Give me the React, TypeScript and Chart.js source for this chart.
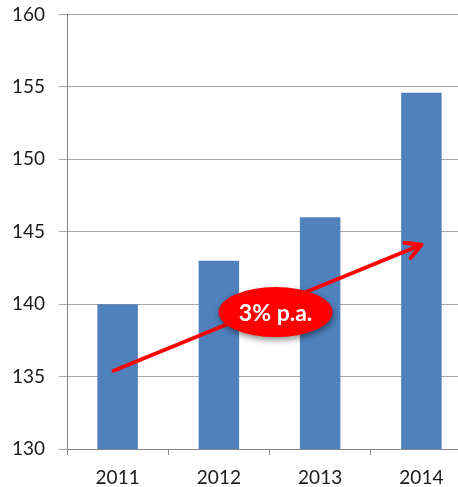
import React, { useEffect, useRef } from "react";
import { Chart, registerables } from "chart.js";

Chart.register(...registerables);

const categories = ["2011", "2012", "2013", "2014"];
const values = [140, 143, 146, 154.6];
const yMin = 130;
const yMax = 160;
const yStep = 5;

// Trend arrow in data coordinates: [category index, value]
const trendStart = [-0.04, 135.4];
const trendEnd = [3.0, 144.1];
// Growth badge in data coordinates
const badgeCenter = [1.56, 139.45];
const badgeText = "3% p.a.";

const FONT = "Lato, 'Open Sans', sans-serif";

const trendPlugin = {
  id: "trendArrow",
  afterDatasetsDraw(chart: any) {
    const { ctx, scales } = chart;
    const x = scales.x;
    const y = scales.y;
    const px = (i: number) => x.getPixelForValue(0) + i * (x.getPixelForValue(1) - x.getPixelForValue(0));
    const x1 = px(trendStart[0]);
    const y1 = y.getPixelForValue(trendStart[1]);
    const x2 = px(trendEnd[0]);
    const y2 = y.getPixelForValue(trendEnd[1]);
    const ang = Math.atan2(y2 - y1, x2 - x1);

    ctx.save();
    ctx.strokeStyle = "#FF0000";
    ctx.lineWidth = 4;
    ctx.lineCap = "round";
    ctx.lineJoin = "round";
    ctx.beginPath();
    ctx.moveTo(x1, y1);
    ctx.lineTo(x2, y2);
    ctx.stroke();
    const head = 17;
    const spread = 0.5;
    ctx.beginPath();
    ctx.moveTo(x2 - head * Math.cos(ang - spread), y2 - head * Math.sin(ang - spread));
    ctx.lineTo(x2, y2);
    ctx.lineTo(x2 - head * Math.cos(ang + spread), y2 - head * Math.sin(ang + spread));
    ctx.stroke();

    const cx = px(badgeCenter[0]);
    const cy = y.getPixelForValue(badgeCenter[1]);
    ctx.shadowColor = "rgba(0,0,0,0.45)";
    ctx.shadowBlur = 6;
    ctx.shadowOffsetX = 1;
    ctx.shadowOffsetY = 3;
    ctx.fillStyle = "#FF0000";
    ctx.beginPath();
    ctx.ellipse(cx, cy, 57, 25, 0, 0, Math.PI * 2);
    ctx.fill();
    ctx.shadowColor = "transparent";
    ctx.fillStyle = "#FFFFFF";
    ctx.font = `bold 23px ${FONT}`;
    ctx.textAlign = "center";
    ctx.textBaseline = "middle";
    ctx.fillText(badgeText, cx, cy + 1);
    ctx.restore();
  },
};

export default function App() {
  const ref = useRef<HTMLCanvasElement | null>(null);

  useEffect(() => {
    if (!ref.current) return;
    const chart = new Chart(ref.current, {
      type: "bar",
      data: {
        labels: categories,
        datasets: [
          {
            data: values,
            backgroundColor: "#4F81BD",
            borderWidth: 0,
            barPercentage: 0.4,
            categoryPercentage: 1,
          },
        ],
      },
      options: {
        responsive: false,
        animation: false,
        layout: { padding: { top: 4, right: 0, left: 0, bottom: 0 } },
        plugins: { legend: { display: false }, tooltip: { enabled: false } },
        scales: {
          x: {
            offset: true,
            border: { color: "#868686", width: 1 },
            grid: {
              offset: true,
              drawOnChartArea: false,
              drawTicks: true,
              tickLength: 6,
              color: "#868686",
            },
            ticks: {
              padding: 11,
              color: "#1A1A1A",
              font: { family: FONT, size: 19 },
            },
            afterFit(scale: any) {
              scale.height = 38;
            },
          },
          y: {
            min: yMin,
            max: yMax,
            border: { color: "#868686", width: 1 },
            grid: { color: "#A6A6A6", tickLength: 8, drawTicks: true },
            ticks: {
              stepSize: yStep,
              padding: 14,
              color: "#1A1A1A",
              font: { family: FONT, size: 19 },
            },
            afterFit(scale: any) {
              scale.width = 67;
            },
          },
        },
      },
      plugins: [trendPlugin],
    });
    return () => chart.destroy();
  }, []);

  return (
    <div
      style={{
        position: "fixed",
        left: 0,
        top: 0,
        width: 458,
        height: 487,
        overflow: "hidden",
        background: "#FFFFFF",
      }}
    >
      <canvas
        ref={ref}
        width={472}
        height={498}
        style={{ display: "block", marginTop: -11 }}
      />
    </div>
  );
}
